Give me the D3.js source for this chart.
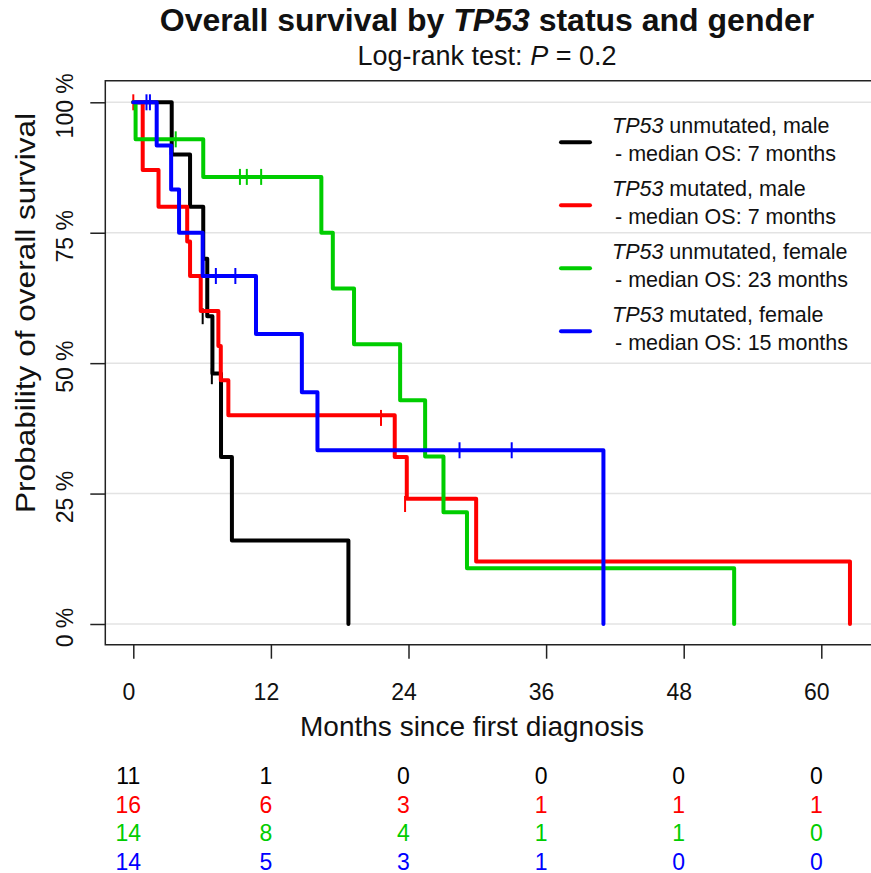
<!DOCTYPE html>
<html><head><meta charset="utf-8">
<script src="https://cdn.jsdelivr.net/npm/d3@7"></script>
<style>
body{margin:0;background:#fff;}
svg{display:block;font-family:"Liberation Sans",Arial,Helvetica,sans-serif;}
</style>
</head><body>
<svg id="chart" width="871" height="873"></svg>
<script>
// ---------- data ----------
const groupGene = ["TP53", "TP53", "TP53", "TP53"];
const groupLabels = [" unmutated, male", " mutated, male", " unmutated, female", " mutated, female"];
const medianOS = [7, 7, 23, 15];
const groupColors = ["#000000", "#ff0000", "#00cd00", "#0000ff"];

// Kaplan-Meier step points (time in months, survival probability)
const blackTimes = [0, 3.35, 4.95, 6.1, 6.45, 6.9, 7.65, 8.6, 18.76];
const blackSurv  = [1, 0.90, 0.80, 0.70, 0.59, 0.48, 0.32, 0.16, 0];
const redTimes   = [0, 0.82, 2.2, 4.7, 4.95, 5.88, 7.42, 7.63, 8.29, 22.8, 23.85, 29.9, 62.5];
const redSurv    = [1, 0.87, 0.80, 0.733, 0.667, 0.60, 0.533, 0.467, 0.40, 0.32, 0.24, 0.12, 0];
const greenTimes = [0, 0.2, 6.1, 16.4, 17.4, 19.25, 23.27, 25.45, 27.05, 29.1, 52.4];
const greenSurv  = [1, 0.929, 0.857, 0.75, 0.643, 0.536, 0.429, 0.321, 0.214, 0.107, 0];
const blueTimes  = [0, 2.04, 3.3, 3.99, 6.05, 10.7, 14.7, 16.06, 41.0];
const blueSurv   = [1, 0.917, 0.833, 0.75, 0.667, 0.556, 0.444, 0.333, 0];

// censoring marks
const blackCensTimes = [6.05, 6.85];
const blackCensSurv  = [0.59, 0.475];
const redCensTimes   = [0, 21.6, 23.7];
const redCensSurv    = [1, 0.395, 0.23];
const greenCensTimes = [3.7, 9.3, 9.9, 11.15];
const greenCensSurv  = [0.929, 0.857, 0.857, 0.857];
const blueCensTimes  = [1.15, 1.45, 7.2, 8.9, 28.45, 33.0];
const blueCensSurv   = [1, 1, 0.667, 0.667, 0.333, 0.333];

// numbers at risk
const riskTimes = [0, 12, 24, 36, 48, 60];
const riskBlack = [11, 1, 0, 0, 0, 0];
const riskRed   = [16, 6, 3, 1, 1, 1];
const riskGreen = [14, 8, 4, 1, 1, 0];
const riskBlue  = [14, 5, 3, 1, 0, 0];

const xTicks = [0, 12, 24, 36, 48, 60];
const yTicks = [0, 0.25, 0.5, 0.75, 1];

// ---------- build ----------
const curves = [
  {t: blackTimes, s: blackSurv, ct: blackCensTimes, cs: blackCensSurv, risk: riskBlack},
  {t: redTimes, s: redSurv, ct: redCensTimes, cs: redCensSurv, risk: riskRed},
  {t: greenTimes, s: greenSurv, ct: greenCensTimes, cs: greenCensSurv, risk: riskGreen},
  {t: blueTimes, s: blueSurv, ct: blueCensTimes, cs: blueCensSurv, risk: riskBlue}
];

const svg = d3.select("#chart");
const box = {left: 105.3, top: 80.7, right: 876, bottom: 644.7};
const x = d3.scaleLinear().domain([0, 60]).range([133.3, 821.3]);
const y = d3.scaleLinear().domain([0, 1]).range([624, 102.3]);

svg.append("rect").attr("width", 871).attr("height", 873).attr("fill", "#fff");

// gridlines
svg.append("g").selectAll("line").data(yTicks).join("line")
  .attr("x1", box.left).attr("x2", box.right)
  .attr("y1", d => y(d)).attr("y2", d => y(d))
  .attr("stroke", "#e3e3e3").attr("stroke-width", 1.5);

// curves
const line = d3.line().x(d => x(d[0])).y(d => y(d[1])).curve(d3.curveStepAfter);
curves.forEach((c, i) => {
  const pts = c.t.map((tt, k) => [tt, c.s[k]]);
  svg.append("path").attr("d", line(pts)).attr("fill", "none")
    .attr("stroke", groupColors[i]).attr("stroke-width", 4)
    .attr("stroke-linejoin", "round").attr("stroke-linecap", "round");
  svg.append("g").selectAll("line").data(c.ct.map((tt, k) => [tt, c.cs[k]])).join("line")
    .attr("x1", d => x(d[0])).attr("x2", d => x(d[0]))
    .attr("y1", d => y(d[1]) - 8).attr("y2", d => y(d[1]) + 8)
    .attr("stroke", groupColors[i]).attr("stroke-width", 2);
});

// box
svg.append("path")
  .attr("d", `M${box.right},${box.top}H${box.left}V${box.bottom}H${box.right}`)
  .attr("fill", "none").attr("stroke", "#222").attr("stroke-width", 1.5);

// x axis
const xa = svg.append("g").attr("transform", `translate(0,${box.bottom})`)
  .call(d3.axisBottom(x).tickValues(xTicks).tickSize(14).tickPadding(25).tickFormat(d3.format("d")));
xa.select(".domain").remove();
xa.selectAll(".tick line").attr("stroke", "#222").attr("stroke-width", 1.5);
xa.selectAll(".tick text").attr("font-size", 23).attr("fill", "#111").attr("dx", -5)
  .attr("font-family", "Liberation Sans, Arial, sans-serif");

// y axis
const ya = svg.append("g").attr("transform", `translate(${box.left},0)`)
  .call(d3.axisLeft(y).tickValues(yTicks).tickSize(15).tickFormat(d => Math.round(d * 100) + " %"));
ya.select(".domain").remove();
ya.selectAll(".tick line").attr("stroke", "#222").attr("stroke-width", 1.5);
ya.selectAll(".tick text")
  .attr("x", 0).attr("y", 0).attr("dy", 0)
  .attr("transform", `translate(${73 - box.left},3) rotate(-90)`)
  .attr("text-anchor", "middle").attr("font-size", 23).attr("fill", "#111")
  .attr("font-family", "Liberation Sans, Arial, sans-serif");

// titles
const title = svg.append("text").attr("x", 487).attr("y", 31).attr("text-anchor", "middle")
  .attr("font-size", 32).attr("font-weight", "bold").attr("fill", "#111");
title.append("tspan").text("Overall survival by ");
title.append("tspan").attr("font-style", "italic").text("TP53");
title.append("tspan").text(" status and gender");

const sub = svg.append("text").attr("x", 487).attr("y", 65).attr("text-anchor", "middle")
  .attr("font-size", 27).attr("fill", "#111");
sub.append("tspan").text("Log-rank test: ");
sub.append("tspan").attr("font-style", "italic").text("P");
sub.append("tspan").text(" = 0.2");

svg.append("text").attr("x", 472).attr("y", 736).attr("text-anchor", "middle")
  .attr("font-size", 28).attr("fill", "#111").text("Months since first diagnosis");

svg.append("text").attr("transform", "translate(35,313) rotate(-90)").attr("text-anchor", "middle")
  .attr("font-size", 28).attr("fill", "#111")
  .attr("textLength", 400).attr("lengthAdjust", "spacingAndGlyphs")
  .text("Probability of overall survival");

// legend
const lg = svg.append("g");
groupLabels.forEach((lab, i) => {
  const oy = i * 63;
  lg.append("line").attr("x1", 561).attr("x2", 590).attr("y1", 142.3 + oy).attr("y2", 142.3 + oy)
    .attr("stroke", groupColors[i]).attr("stroke-width", 4).attr("stroke-linecap", "round");
  const t1 = lg.append("text").attr("x", 612).attr("y", 133.3 + oy).attr("font-size", 21.5).attr("fill", "#111");
  t1.append("tspan").attr("font-style", "italic").text(groupGene[i]);
  t1.append("tspan").text(lab);
  lg.append("text").attr("x", 615).attr("y", 160.7 + oy).attr("font-size", 21.5).attr("fill", "#111")
    .text("- median OS: " + medianOS[i] + " months");
});

// risk table
curves.forEach((c, i) => {
  svg.append("g").selectAll("text").data(c.risk).join("text")
    .attr("x", (d, k) => x(riskTimes[k]) - 5).attr("y", 784 + i * 28.5)
    .attr("text-anchor", "middle").attr("font-size", 23).attr("fill", groupColors[i])
    .text(d => d);
});
</script>
</body></html>
